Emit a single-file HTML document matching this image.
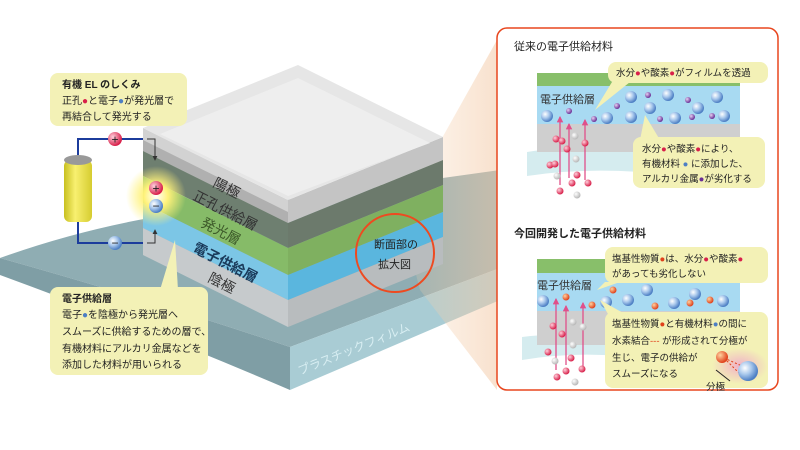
<!DOCTYPE html>
<html><head><meta charset="utf-8"><style>
html,body{margin:0;padding:0;background:#fff;}
svg{display:block;}
text{font-family:"Liberation Sans","Noto Sans CJK JP",sans-serif;}
</style></head><body>
<svg width="800" height="450" viewBox="0 0 800 450" xmlns="http://www.w3.org/2000/svg">
<defs>
<radialGradient id="bb" cx="35%" cy="35%" r="65%"><stop offset="0" stop-color="#ffffff"/><stop offset="0.5" stop-color="#a9c8ec"/><stop offset="1" stop-color="#4d7fc4"/></radialGradient>
<radialGradient id="pp" cx="35%" cy="35%" r="65%"><stop offset="0" stop-color="#e6d2f2"/><stop offset="1" stop-color="#6a2f96"/></radialGradient>
<radialGradient id="rr" cx="35%" cy="35%" r="65%"><stop offset="0" stop-color="#ffd0dc"/><stop offset="1" stop-color="#d8204a"/></radialGradient>
<radialGradient id="ww" cx="35%" cy="35%" r="65%"><stop offset="0" stop-color="#ffffff"/><stop offset="1" stop-color="#b8b8b8"/></radialGradient>
<radialGradient id="oo" cx="35%" cy="35%" r="65%"><stop offset="0" stop-color="#ffd3a0"/><stop offset="1" stop-color="#e0401a"/></radialGradient>
<radialGradient id="glow" cx="50%" cy="50%" r="50%"><stop offset="0" stop-color="#ffffff"/><stop offset="0.4" stop-color="#fff27a"/><stop offset="1" stop-color="#fff27a" stop-opacity="0"/></radialGradient>
<radialGradient id="pink" cx="50%" cy="50%" r="50%"><stop offset="0" stop-color="#f0b0c8"/><stop offset="1" stop-color="#f0b0c8" stop-opacity="0"/></radialGradient>
<linearGradient id="beam" x1="0" y1="0" x2="1" y2="0"><stop offset="0" stop-color="#f6d3b0" stop-opacity="0.15"/><stop offset="1" stop-color="#f3c9a6" stop-opacity="0.55"/></linearGradient>
<linearGradient id="bat" x1="0" y1="0" x2="1" y2="0"><stop offset="0" stop-color="#c8c020"/><stop offset="0.4" stop-color="#f8f070"/><stop offset="1" stop-color="#d6cc30"/></linearGradient>
<marker id="ar" viewBox="0 0 6 6" refX="5" refY="3" markerWidth="5" markerHeight="5" orient="auto"><path d="M0,0L6,3L0,6z" fill="#e0508a"/></marker>
<marker id="ak" viewBox="0 0 6 6" refX="5" refY="3" markerWidth="5" markerHeight="5" orient="auto"><path d="M0,0L6,3L0,6z" fill="#333"/></marker>
</defs>

<!-- film -->
<path d="M0,258 Q120,215 250,205 L500,170 L500,268 L290,347 Q150,300 0,258z" fill="#8fadb3"/>
<path d="M0,258 Q150,300 290,347 L290,390 Q150,330 0,275z" fill="#7f9ea5"/>
<path d="M290,347 L500,268 L500,300 L290,390z" fill="#a9ccd4"/>
<text x="300" y="375" font-size="12" fill="#d8eef2" transform="rotate(-22 300 375)">プラスチックフィルム</text>

<!-- beam -->
<path d="M400,213 L497,40 L497,390 L420,290z" fill="url(#beam)"/>

<!-- stack left face -->
<path d="M143,128 L288,200 L288,225 L143,153z" fill="#d2d2d2"/>
<path d="M143,140 L288,212 L288,223 L143,151z" fill="#b0b0b0"/>
<path d="M143,151 L288,223 L288,248 L143,176z" fill="#6e7f70"/>
<path d="M143,176 L288,248 L288,275 L143,203z" fill="#86bb68"/>
<path d="M143,203 L288,275 L288,300 L143,228z" fill="#7cc6e6"/>
<path d="M143,228 L288,300 L288,327 L143,255z" fill="#c6cacc"/>
<!-- right face -->
<path d="M288,200 L443,137 L443,160 L288,223z" fill="#c4c4c4"/>
<path d="M288,223 L443,160 L443,185 L288,248z" fill="#6c7a6c"/>
<path d="M288,248 L443,185 L443,212 L288,275z" fill="#7fb060"/>
<path d="M288,275 L443,212 L443,237 L288,300z" fill="#5ab6de"/>
<path d="M288,300 L443,237 L443,264 L288,327z" fill="#b8bcbe"/>
<!-- top -->
<path d="M143,128 L298,65 L443,137 L288,200z" fill="#e6e6e6"/>
<path d="M160,134 L298,78 L430,143 L288,196z" fill="#eeeeee"/>
<g font-size="14" fill="#333" >
<text x="212" y="186" transform="rotate(27 212 186)">陽極</text>
<text x="192" y="199" transform="rotate(27 192 199)">正孔供給層</text>
<text x="200" y="226" fill="#3d5a2a" transform="rotate(27 200 226)">発光層</text>
<text x="192" y="251" font-weight="bold" fill="#1a3a5a" transform="rotate(27 192 251)">電子供給層</text>
<text x="207" y="281" transform="rotate(27 207 281)">陰極</text>
</g>
<circle cx="395" cy="253" r="39" fill="none" stroke="#ee4a20" stroke-width="2"/>
<text x="374" y="248" font-size="11" fill="#222">断面部の</text>
<text x="378" y="268" font-size="11" fill="#222">拡大図</text>

<!-- circuit -->
<path d="M143,139 L78,139 L78,243 L143,243" fill="none" stroke="#1c3c9c" stroke-width="2"/>
<path d="M147,139 L155,139 L155,160" fill="none" stroke="#333" stroke-width="1" marker-end="url(#ak)"/>
<path d="M147,243 L155,243 L155,230" fill="none" stroke="#333" stroke-width="1" marker-end="url(#ak)"/>
<rect x="64" y="160" width="28" height="62" rx="6" fill="url(#bat)"/>
<ellipse cx="78" cy="160" rx="14" ry="5" fill="#999"/>
<circle cx="115" cy="139" r="7" fill="url(#rr)"/><text x="115" y="143.5" font-size="12" text-anchor="middle" fill="#222">+</text>
<circle cx="115" cy="243" r="7" fill="url(#bb)"/><text x="115" y="247" font-size="12" text-anchor="middle" fill="#222">−</text>
<circle cx="156" cy="196" r="30" fill="url(#glow)"/>
<circle cx="156" cy="188" r="7" fill="url(#rr)"/><text x="156" y="192.5" font-size="12" text-anchor="middle" fill="#222">+</text>
<circle cx="156" cy="206" r="7" fill="url(#bb)"/><text x="156" y="210" font-size="12" text-anchor="middle" fill="#222">−</text>

<!-- left callouts -->
<rect x="50" y="73" width="137" height="53" rx="8" fill="#f3f1b6"/>
<text x="62" y="88" font-size="10" font-weight="bold" fill="#222">有機 EL のしくみ</text>
<text x="62" y="104" font-size="10" fill="#222">正孔<tspan fill="#d8204a">●</tspan>と電子<tspan fill="#4d7fc4">●</tspan>が発光層で</text>
<text x="62" y="120" font-size="10" fill="#222">再結合して発光する</text>
<path d="M160,290 L175,240 L178,290z" fill="#f3f1b6"/>
<rect x="50" y="287" width="158" height="88" rx="8" fill="#f3f1b6"/>
<text x="62" y="302" font-size="10" font-weight="bold" fill="#222">電子供給層</text>
<text x="62" y="318" font-size="10" fill="#222">電子<tspan fill="#4d7fc4">●</tspan>を陰極から発光層へ</text>
<text x="62" y="335" font-size="10" fill="#222">スムーズに供給するための層で、</text>
<text x="62" y="352" font-size="10" fill="#222">有機材料にアルカリ金属などを</text>
<text x="62" y="368" font-size="10" fill="#222">添加した材料が用いられる</text>

<!-- right panel -->
<rect x="497" y="28" width="281" height="362" rx="10" fill="#fff" stroke="#e8461e" stroke-width="1.5"/>
<text x="514" y="50" font-size="11" fill="#222">従来の電子供給材料</text>
<path d="M527,152 Q560,146 600,152 L640,150 L640,172 Q580,168 527,176z" fill="#d5ecef"/>
<rect x="537" y="73" width="203" height="13" fill="#88bf6a"/>
<rect x="537" y="86" width="203" height="38" fill="#a8daf2"/>
<rect x="537" y="124" width="203" height="28" fill="#cfcfcf"/>
<text x="540" y="103" font-size="11" fill="#333">電子供給層</text>
<g fill="url(#bb)">
<circle cx="547" cy="116" r="6"/><circle cx="607" cy="118" r="6"/><circle cx="631" cy="97" r="6"/><circle cx="631" cy="117" r="6"/><circle cx="650" cy="108" r="6"/><circle cx="668" cy="95" r="6"/><circle cx="675" cy="118" r="6"/><circle cx="698" cy="108" r="6"/><circle cx="717" cy="97" r="6"/><circle cx="724" cy="116" r="6"/>
</g>
<g fill="url(#pp)">
<circle cx="569" cy="111" r="3"/><circle cx="594" cy="119" r="3"/><circle cx="617" cy="106" r="3"/><circle cx="648" cy="95" r="3"/><circle cx="660" cy="119" r="3"/><circle cx="688" cy="100" r="3"/><circle cx="692" cy="117" r="3"/><circle cx="712" cy="116" r="3"/>
</g>
<g stroke="#e0508a" stroke-width="1.3" marker-end="url(#ar)"><line x1="560" y1="185" x2="560" y2="117"/><line x1="569" y1="178" x2="569" y2="124"/><line x1="585" y1="180" x2="585" y2="120"/></g>
<g fill="url(#rr)">
<circle cx="556" cy="139" r="3.5"/><circle cx="562" cy="141" r="3.5"/><circle cx="567" cy="149" r="3.5"/><circle cx="550" cy="165" r="3.5"/><circle cx="555" cy="164" r="3.5"/><circle cx="577" cy="175" r="3.5"/><circle cx="572" cy="183" r="3.5"/><circle cx="560" cy="191" r="3.5"/><circle cx="585" cy="143" r="3.5"/><circle cx="588" cy="183" r="3.5"/>
</g>
<g fill="url(#ww)"><circle cx="575" cy="136" r="3.5"/><circle cx="576" cy="159" r="3.5"/><circle cx="557" cy="176" r="3.5"/><circle cx="577" cy="195" r="3.5"/></g>

<path d="M612,82 L595,110 L630,82z" fill="#f3f1b6"/>
<rect x="608" y="62" width="160" height="21" rx="8" fill="#f3f1b6"/>
<text x="616" y="76" font-size="9.5" fill="#222">水分<tspan fill="#d8204a">●</tspan>や酸素<tspan fill="#d8204a">●</tspan>がフィルムを透過</text>
<path d="M640,140 L645,115 L660,140z" fill="#f3f1b6"/>
<rect x="633" y="137" width="132" height="51" rx="8" fill="#f3f1b6"/>
<text x="642" y="152" font-size="9.5" fill="#222">水分<tspan fill="#d8204a">●</tspan>や酸素<tspan fill="#d8204a">●</tspan>により、</text>
<text x="642" y="167" font-size="9.5" fill="#222">有機材料 <tspan fill="#4d7fc4">●</tspan> に添加した、</text>
<text x="642" y="182" font-size="9.5" fill="#222">アルカリ金属<tspan fill="#6a2f96">●</tspan>が劣化する</text>

<text x="514" y="237" font-size="11" font-weight="bold" fill="#222">今回開発した電子供給材料</text>
<path d="M522,337 Q560,332 600,338 L620,336 L620,356 Q570,352 522,360z" fill="#d5ecef"/>
<rect x="537" y="259" width="203" height="14" fill="#88bf6a"/>
<rect x="537" y="273" width="203" height="38" fill="#a8daf2"/>
<rect x="537" y="311" width="203" height="34" fill="#cfcfcf"/>
<text x="537" y="289" font-size="11" fill="#333">電子供給層</text>
<g fill="url(#bb)">
<circle cx="543" cy="301" r="6"/><circle cx="606" cy="302" r="6"/><circle cx="628" cy="300" r="6"/><circle cx="647" cy="290" r="6"/><circle cx="674" cy="303" r="6"/><circle cx="695" cy="294" r="6"/><circle cx="723" cy="301" r="6"/>
</g>
<g fill="url(#oo)">
<circle cx="566" cy="297" r="3.5"/><circle cx="592" cy="305" r="3.5"/><circle cx="613" cy="290" r="3.5"/><circle cx="655" cy="306" r="3.5"/><circle cx="690" cy="303" r="3.5"/><circle cx="710" cy="300" r="3.5"/>
</g>
<g stroke="#e0508a" stroke-width="1.3" marker-end="url(#ar)"><line x1="556" y1="370" x2="556" y2="299"/><line x1="566" y1="365" x2="566" y2="306"/><line x1="583" y1="368" x2="583" y2="303"/></g>
<g fill="url(#rr)">
<circle cx="553" cy="326" r="3.5"/><circle cx="562" cy="334" r="3.5"/><circle cx="548" cy="352" r="3.5"/><circle cx="571" cy="358" r="3.5"/><circle cx="566" cy="371" r="3.5"/><circle cx="582" cy="369" r="3.5"/><circle cx="557" cy="377" r="3.5"/>
</g>
<g fill="url(#ww)"><circle cx="573" cy="322" r="3.5"/><circle cx="583" cy="327" r="3.5"/><circle cx="573" cy="345" r="3.5"/><circle cx="555" cy="361" r="3.5"/><circle cx="575" cy="382" r="3.5"/></g>

<path d="M605,282 L597,290 L620,282z" fill="#f3f1b6"/>
<rect x="605" y="247" width="163" height="36" rx="8" fill="#f3f1b6"/>
<text x="612" y="262" font-size="9.5" fill="#222">塩基性物質<tspan fill="#e0401a">●</tspan>は、水分<tspan fill="#d8204a">●</tspan>や酸素<tspan fill="#d8204a">●</tspan></text>
<text x="612" y="277" font-size="9.5" fill="#222">があっても劣化しない</text>
<path d="M608,314 L600,300 L625,314z" fill="#f3f1b6"/>
<rect x="605" y="312" width="163" height="76" rx="8" fill="#f3f1b6"/>
<text x="612" y="327" font-size="9.5" fill="#222">塩基性物質<tspan fill="#e0401a">●</tspan>と有機材料<tspan fill="#4d7fc4">●</tspan>の間に</text>
<text x="612" y="344" font-size="9.5" fill="#222">水素結合<tspan fill="#e0401a">---</tspan> が形成されて分極が</text>
<text x="612" y="361" font-size="9.5" fill="#222">生じ、電子の供給が</text>
<text x="612" y="377" font-size="9.5" fill="#222">スムーズになる</text>
<ellipse cx="740" cy="366" rx="28" ry="18" fill="url(#pink)"/>
<line x1="724" y1="358" x2="742" y2="366" stroke="#e0401a" stroke-dasharray="2,2"/>
<line x1="724" y1="358" x2="740" y2="374" stroke="#e0401a" stroke-dasharray="2,2"/>
<circle cx="722" cy="357" r="6" fill="url(#oo)"/>
<circle cx="748" cy="371" r="10" fill="url(#bb)"/>
<line x1="716" y1="370" x2="730" y2="381" stroke="#222" stroke-width="1"/>
<text x="706" y="390" font-size="9.5" fill="#222">分極</text>
</svg>
</body></html>
